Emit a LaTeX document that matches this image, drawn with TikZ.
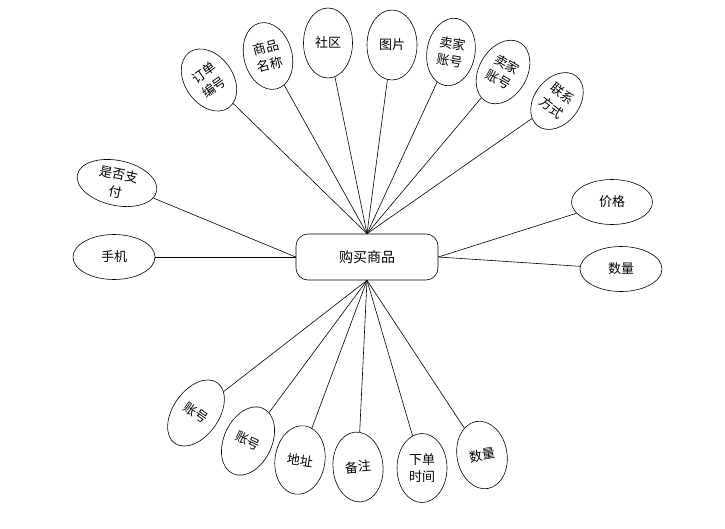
\documentclass[tikz,border=0pt]{standalone}
\usepackage{fontspec}
\setmainfont{Noto Sans CJK SC}
\usetikzlibrary{shapes.geometric}

\begin{document}
\begin{tikzpicture}[x=1pt, y=-1pt,
  a/.style={draw, ellipse, line width=0.6pt, inner sep=0pt, minimum width=48pt, minimum height=68pt, align=center, font=\fontsize{13}{17.5}\selectfont},
  aw/.style={a, minimum width=81pt, minimum height=45pt},
  ent/.style={draw, line width=0.6pt, rounded corners=12pt, minimum width=142pt, minimum height=46pt, font=\fontsize{14}{16}\selectfont},
  l/.style={line width=0.6pt}]
\useasboundingbox (0,0) rectangle (725,528);
\node[ent] (buy) at (367,257) {购买商品};
% top
\node[a, rotate=35] (ddbh) at (209,80) {订单\\编号};
\node[a, rotate=15] (spmc) at (268,56) {商品\\名称};
\node[a, minimum width=49pt, minimum height=70pt] (sq) at (328,43) {社区};
\node[a, minimum width=50pt, minimum height=70pt] (tp) at (392,45) {图片};
\node[a, rotate=-10] (mjzh) at (451,52) {卖家\\账号};
\node[a, rotate=-30] (mjzh2) at (503,72) {卖家\\账号};
\node[a, rotate=-38, minimum width=45pt, minimum height=63pt] (lxfs) at (557,101) {联系\\方式};
% left and right
\node[aw, rotate=-12] (sfzf) at (117,183) {是否支\\付};
\node[aw, minimum width=82pt] (sj) at (114,257) {手机};
\node[aw] (jg) at (612,202) {价格};
\node[aw, minimum width=82pt] (sl) at (621,269) {数量};
% bottom
\node[a, rotate=-35, minimum width=46pt, minimum height=74pt] (zh) at (196,413) {账号};
\node[a, rotate=-25, minimum height=72pt] (zh2) at (248,441) {账号};
\node[a, rotate=-8, minimum width=50pt, minimum height=69pt] (dz) at (300,460) {地址};
\node[a, rotate=5, minimum width=50pt, minimum height=70pt] (bz) at (358,467) {备注};
\node[a, minimum width=50pt, minimum height=69pt] (xdsj) at (422,468) {下单\\时间};
\node[a, rotate=10, minimum width=50pt, minimum height=68pt] (sl2) at (482,455) {数量};
\foreach \n in {ddbh,spmc,sq,tp,mjzh,mjzh2,lxfs}
  \draw[l] (buy.north) -- (\n);
\foreach \n in {zh,zh2,dz,bz,xdsj,sl2}
  \draw[l] (buy.south) -- (\n);
\draw[l] (buy.west) -- (sfzf);
\draw[l] (buy.west) -- (sj);
\draw[l] (buy.east) -- (jg);
\draw[l] (buy.east) -- (sl);
\end{tikzpicture}
\end{document}
